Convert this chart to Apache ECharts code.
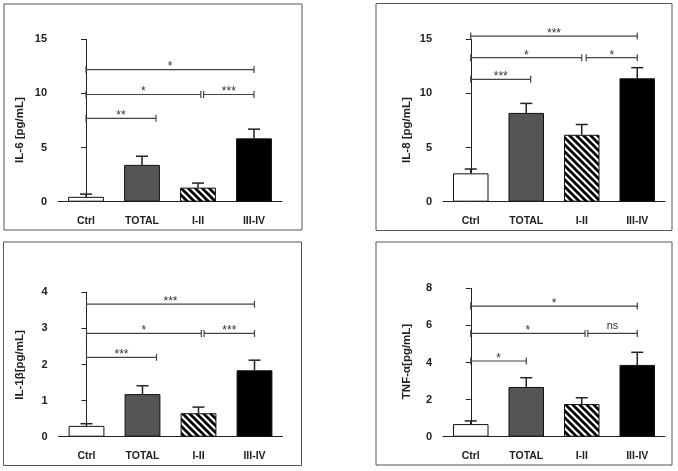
<!DOCTYPE html>
<html><head><meta charset="utf-8">
<script src="https://cdn.jsdelivr.net/npm/echarts@6/dist/echarts.min.js"></script>
<style>html,body{margin:0;padding:0;background:#fff}#c{width:678px;height:471px}</style>
</head><body><div id="c"></div>
<script>
// ---- data ----
const categories = ['Ctrl', 'TOTAL', 'I-II', 'III-IV'];

const il6Mean = [0.45, 3.4, 1.3, 5.85];
const il6Err  = [0.25, 0.8, 0.42, 0.85];
const il8Mean = [2.62, 8.2, 6.18, 11.4];
const il8Err  = [0.4, 0.88, 0.95, 0.98];
const il1bMean = [0.3, 1.18, 0.65, 1.84];
const il1bErr  = [0.06, 0.23, 0.17, 0.28];
const tnfMean = [0.68, 2.68, 1.76, 3.87];
const tnfErr  = [0.17, 0.5, 0.34, 0.68];

// brackets: [from, to, level, label]
const il6Sig = [[0, 1.25, 7.7, '**'], [0, 2.05, 9.9, '*'], [2.1, 3, 9.9, '***'], [0, 3, 12.2, '*']];
const il8Sig = [[0, 1.08, 11.3, '***'], [0, 2.0, 13.3, '*'], [2.08, 3, 13.3, '*'], [0, 3, 15.3, '***']];
const il1bSig = [[0, 1.25, 2.2, '***'], [0, 2.05, 2.86, '*'], [2.1, 3, 2.86, '***'], [0, 3, 3.67, '***']];
const tnfSig = [[0, 1, 4.08, '*'], [0, 2.06, 5.57, '*'], [2.11, 3, 5.57, 'ns'], [0, 3, 7.04, '*']];

const yNames = ['IL-6 [pg/mL]', 'IL-8 [pg/mL]', 'IL-1\u03b2[pg/mL]', 'TNF-\u03b1[pg/mL]'];
const yMax = [15, 15, 4, 8];
const yInterval = [5, 5, 1, 2];

// ---- layout ----
const grids = [
  {left: 58, top: 39.3, width: 224, height: 162.4},
  {left: 443, top: 39.3, width: 222, height: 162.4},
  {left: 58.5, top: 292.3, width: 224, height: 144.4},
  {left: 443, top: 288.3, width: 222, height: 148.4}
];
const frames = [
  {x: 4, y: 4, width: 298, height: 226},
  {x: 376, y: 3.5, width: 296, height: 227},
  {x: 3.5, y: 242, width: 298, height: 223.5},
  {x: 376, y: 242, width: 296, height: 223}
];
const namePos = [[19.5, 130], [406.5, 130], [19.5, 365], [406.5, 361.5]];

// hatch pattern
const hatch = document.createElement('canvas');
const S = 7;
hatch.width = S; hatch.height = S;
(function () {
  const g = hatch.getContext('2d');
  g.fillStyle = '#fff'; g.fillRect(0, 0, S, S);
  g.strokeStyle = '#000'; g.lineWidth = 2.7;
  for (const k of [-S, 0, S]) {
    g.beginPath(); g.moveTo(k - 1, -1); g.lineTo(k + S + 1, S + 1); g.stroke();
  }
})();
const fills = ['#ffffff', '#555555', {image: hatch, repeat: 'repeat'}, '#000000'];

const means = [il6Mean, il8Mean, il1bMean, tnfMean];
const errs = [il6Err, il8Err, il1bErr, tnfErr];
const sigs = [il6Sig, il8Sig, il1bSig, tnfSig];

const FONT = '"Liberation Sans", Arial, sans-serif';
const xAxis = [], yAxis = [], series = [];
grids.forEach((g, i) => {
  xAxis.push({
    gridIndex: i, type: 'category', data: categories,
    axisLine: {lineStyle: {color: '#222', width: 1}},
    axisTick: {show: false},
    axisLabel: {color: '#222', fontWeight: 'bold', fontSize: 10.5, fontFamily: FONT, margin: 14}
  });
  xAxis.push({gridIndex: i, type: 'value', min: -0.5, max: 3.5, show: false});
  yAxis.push({
    gridIndex: i, type: 'value', min: 0, max: yMax[i], interval: yInterval[i],
    axisLine: {show: true, lineStyle: {color: '#222', width: 1}},
    axisTick: {show: true, length: 5, lineStyle: {color: '#222'}},
    splitLine: {show: false},
    axisLabel: {color: '#222', fontWeight: 'bold', fontSize: 11, fontFamily: FONT, margin: 11}
  });
  series.push({
    type: 'bar', xAxisIndex: 2 * i, yAxisIndex: i, barWidth: '64%',
    data: means[i].map((v, j) => ({value: v, itemStyle: {color: fills[j]}})),
    itemStyle: {borderColor: '#111', borderWidth: 1},
    silent: true, animation: false
  });
  series.push({
    type: 'custom', xAxisIndex: 2 * i + 1, yAxisIndex: i, animation: false, silent: true,
    data: means[i].map((v, j) => [j, v, errs[i][j]]),
    encode: {x: 0, y: 1},
    renderItem: function (params, api) {
      const x = api.value(0), m = api.value(1), e = api.value(2);
      const p0 = api.coord([x, m]); const p1 = api.coord([x, m + e]);
      const st = {stroke: '#222', lineWidth: 1.5};
      return {type: 'group', children: [
        {type: 'line', shape: {x1: p0[0], y1: p0[1], x2: p1[0], y2: p1[1]}, style: st},
        {type: 'line', shape: {x1: p1[0] - 6, y1: p1[1], x2: p1[0] + 6, y2: p1[1]}, style: st}
      ]};
    }
  });
  const sg = sigs[i];
  series.push({
    type: 'custom', xAxisIndex: 2 * i + 1, yAxisIndex: i, animation: false, silent: true, clip: false,
    data: sg.map(b => [b[0], b[1], b[2]]),
    encode: {x: 0, y: 2},
    renderItem: function (params, api) {
      const a = api.coord([api.value(0), api.value(2)]);
      const b = api.coord([api.value(1), api.value(2)]);
      const lbl = sg[params.dataIndex][3];
      const st = {stroke: '#444', lineWidth: 1.2};
      const isNs = lbl === 'ns';
      return {type: 'group', children: [
        {type: 'line', shape: {x1: a[0], y1: a[1], x2: b[0], y2: b[1]}, style: st},
        {type: 'line', shape: {x1: a[0], y1: a[1] - 3.5, x2: a[0], y2: a[1] + 3.5}, style: st},
        {type: 'line', shape: {x1: b[0], y1: b[1] - 3.5, x2: b[0], y2: b[1] + 3.5}, style: st},
        {type: 'text', x: (a[0] + b[0]) / 2, y: a[1] - (isNs ? 7 : 2.5),
          style: {text: lbl, fill: '#333', align: 'center', verticalAlign: 'middle',
            font: (isNs ? 'normal 11px ' : 'normal 12px ') + FONT}}
      ]};
    }
  });
});

const graphics = frames.map(f => ({type: 'rect', shape: f, silent: true, z: -1,
  style: {fill: 'none', stroke: '#555', lineWidth: 1}}));
yNames.forEach((n, i) => {
  graphics.push({type: 'text', x: namePos[i][0], y: namePos[i][1], rotation: Math.PI / 2, silent: true,
    style: {text: n, fill: '#222', align: 'center', verticalAlign: 'middle',
      font: 'bold 11.5px ' + FONT}});
});

const chart = echarts.init(document.getElementById('c'), null, {renderer: 'canvas'});
chart.setOption({
  backgroundColor: '#fff',
  animation: false,
  grid: grids,
  xAxis: xAxis,
  yAxis: yAxis,
  series: series,
  graphic: graphics
});
</script></body></html>
